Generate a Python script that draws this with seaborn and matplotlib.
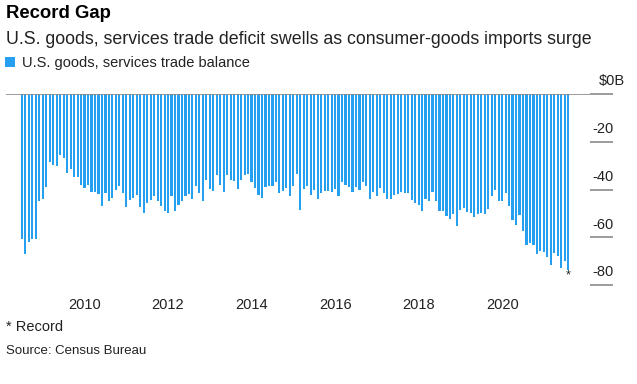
import numpy as np
import pandas as pd
import matplotlib
matplotlib.use("Agg")
import matplotlib.pyplot as plt
import matplotlib.transforms as mtransforms
import seaborn as sns


## data: monthly U.S. goods & services trade balance, $ billions
months = pd.date_range("2008-07-01", "2021-08-01", freq="MS")
balance = [
    # 2008-07 .. 2010-03
    -60.6, -66.9, -62.1, -60.6, -60.6, -44.7, -43.8, -39.0, -28.5, -29.6, -30.2,
    -25.4, -26.8, -33.1, -31.3, -34.9, -34.9, -38.0, -39.3, -38.0, -41.2,
    # 2010-04 .. 2012-03
    -41.0, -41.9, -47.1, -41.5, -44.9, -43.6, -40.1, -38.7, -41.5, -47.5, -44.3, -43.6,
    -42.2, -47.5, -49.8, -45.7, -44.3, -42.9, -44.9, -47.1, -49.1, -49.8, -42.9, -49.1,
    # 2012-04 .. 2014-01
    -46.4, -44.7, -42.9, -41.9, -43.8, -38.7, -41.5, -45.0, -35.9, -39.8, -40.5,
    -34.1, -38.0, -41.2, -34.1, -35.9, -36.3, -39.7, -35.9, -34.1, -33.5, -37.0,
    # 2014-02 .. 2016-02
    -39.4, -42.4, -43.6, -39.1, -38.4, -38.4, -36.9, -41.5, -40.8, -39.4, -42.9, -38.4,
    -33.5, -48.4, -39.7, -38.4, -42.2, -40.1, -43.8, -41.5, -40.8, -40.5, -41.0, -39.7,
    -42.9,
    # 2016-03 .. 2018-01
    -36.9, -38.0, -39.0, -41.0, -39.1, -40.1, -36.9, -38.7, -44.0, -41.0, -42.6, -39.4,
    -41.5, -44.0, -43.8, -42.2, -41.9, -41.0, -41.5, -41.5, -44.3, -45.7, -46.6,
    # 2018-02 .. 2019-10
    -48.9, -43.8, -44.7, -41.0, -44.7, -49.1, -49.1, -51.2, -52.2, -50.3, -55.4,
    -48.4, -47.7, -49.4, -49.8, -51.7, -50.3, -49.8, -50.3, -48.0, -42.6,
    # 2019-11 .. 2021-08
    -40.1, -45.0, -45.0, -41.5, -47.1, -52.6, -54.7, -50.5, -57.2, -63.1, -62.4,
    -63.1, -67.0, -65.9, -66.2, -68.4, -71.8, -66.6, -68.0, -72.9, -70.1, -73.6,
]
y_ticks = [0, -20, -40, -60, -80]
y_labels = ["$0B", "-20", "-40", "-60", "-80"]

df = pd.DataFrame({"month": months.strftime("%Y-%m"), "balance": balance})

bar_color = "#259ff0"
axis_gray = "#8a8a8a"

sns.set_style("white")
plt.rcParams["font.family"] = ["Liberation Sans", "DejaVu Sans"]

fig = plt.figure(figsize=(6.37, 3.84), dpi=100)
W, H = 637, 384
ax = fig.add_axes([6 / W, (H - 285) / H, 584 / W, 191 / H])

sns.barplot(data=df, x="month", y="balance", color=bar_color, saturation=1,
            width=0.62, linewidth=0, ax=ax, label="U.S. goods, services trade balance")

ax.set_xlim(-4.57, 163.25)
ax.set_ylim(-80, 0)
for s in ax.spines.values():
    s.set_visible(False)
ax.set_xlabel("")
ax.set_ylabel("")

# x axis: January of even years
tick_pos = [i for i, m in enumerate(months) if m.month == 1 and m.year % 2 == 0]
ax.set_xticks(tick_pos)
ax.set_xticklabels([str(months[i].year) for i in tick_pos])
ax.tick_params(axis="x", direction="out", length=4.3, width=1, color=axis_gray,
               pad=5, labelsize=10.5, labelcolor="#222222")

# y axis on the right, labels sit above the tick lines
ax.yaxis.tick_right()
ax.set_yticks(y_ticks)
ax.set_yticklabels([])
ax.tick_params(axis="y", direction="out", length=16.6, width=1.2, color=axis_gray)
ax.axhline(0, color=axis_gray, lw=1.2, zorder=5)

lab_tr = mtransforms.offset_copy(
    mtransforms.blended_transform_factory(ax.transAxes, ax.transData),
    fig=fig, y=9, units="points")
for v, t in zip(y_ticks, y_labels):
    x0 = 1.0 + (9 if t.startswith("$") else 2) / 584
    ax.text(x0, v, t, transform=lab_tr, ha="left", va="center",
            fontsize=10.5, color="#222222")

# record marker
ax.text(len(balance) - 1, balance[-1], "*", ha="center", va="top", fontsize=9,
        color="#222222")

# titles
fig.text(6 / W, 1 - 14 / H, "Record Gap", fontsize=13.3, fontweight="bold",
         va="center", ha="left", color="#000000")
fig.text(6 / W, 1 - 39 / H,
         "U.S. goods, services trade deficit swells as consumer-goods imports surge",
         fontsize=12.8, va="center", ha="left", color="#222222")

fig.legend(loc="center left", bbox_to_anchor=(5 / W, 1 - 63 / H), frameon=False,
           fontsize=10.5, handlelength=0.7, handleheight=0.7, handletextpad=0.5,
           borderpad=0, borderaxespad=0, labelcolor="#222222")
if ax.get_legend() is not None:
    ax.get_legend().remove()

fig.text(6 / W, 1 - 327 / H, "* Record", fontsize=10.5, va="center", ha="left",
         color="#222222")
fig.text(6 / W, 1 - 351 / H, "Source: Census Bureau", fontsize=9.5, va="center",
         ha="left", color="#222222")

fig.savefig("out.png", dpi=100, facecolor="white")
